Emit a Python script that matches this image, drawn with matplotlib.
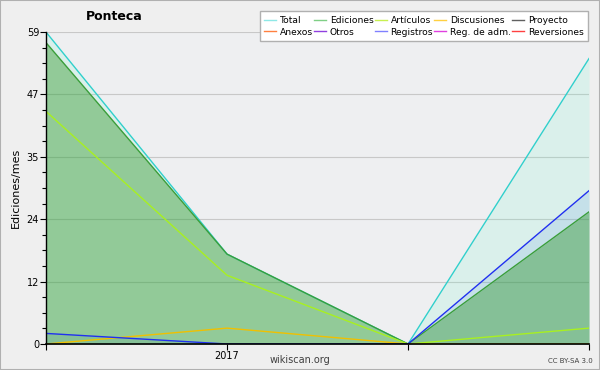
import numpy as np
import matplotlib.pyplot as plt
from matplotlib.lines import Line2D
from matplotlib.patches import Rectangle

x = [0, 1, 2, 3]
xticklabels = ['', '2017', '', '']
total = [59, 17, 0, 54]
ediciones = [57, 17, 0, 25]
articulos = [44, 13, 0, 3]
discusiones = [0, 3, 0, 0]
registros = [2, 0, 0, 29]

legend_names = ['Total', 'Ediciones', 'Artículos', 'Discusiones', 'Proyecto',
                'Anexos', 'Otros', 'Registros', 'Reg. de adm.', 'Reversiones']
legend_colors = ['#8ee8e6', '#7fcf85', '#c8f050', '#ffd040', '#606060',
                 '#ff8040', '#9040e0', '#8080ff', '#e040e0', '#ff4040']

fig = plt.figure(figsize=(6, 3.7), dpi=100, facecolor='#efefef')
fig.patches.append(Rectangle((0, 0), 1, 1, transform=fig.transFigure,
                             fill=False, edgecolor='#b0b0b0', lw=1.5))
ax = fig.add_axes([0.0767, 0.0703, 0.905, 0.843])
ax.set_facecolor('#eeeff1')

# areas
ax.fill_between(x, 0, total, color='#64fac8', alpha=0.14, lw=0)
ax.fill_between(x, 0, registros, color='#3c78dc', alpha=0.13, lw=0)
ax.fill_between(x, 0, ediciones, color='#26911d', alpha=0.4, lw=0)

ax.plot(x, total, color='#30d0cc', lw=1)
ax.plot(x, ediciones, color='#3a9e3a', lw=1)
ax.plot(x, articulos, color='#a8f020', lw=1)
ax.plot(x, discusiones, color='#f0c000', lw=1)
ax.plot(x, registros, color='#2030f0', lw=1)

ax.set_xlim(0, 3)
ax.set_ylim(0, 59)
major = [0, 11.8, 23.6, 35.4, 47.2, 59]
ax.set_yticks(major)
ax.set_yticklabels([str(int(round(v))) for v in major])
ax.set_yticks(np.arange(0, 59, 2.95), minor=True)
ax.set_xticks(x)
ax.set_xticklabels(xticklabels)
ax.tick_params(axis='both', labelsize=7, length=4, width=0.8, colors='black', pad=1)
ax.tick_params(axis='y', which='minor', length=3, width=0.8)
ax.grid(axis='y', which='major', color='#c8c8c8', lw=0.8)
ax.set_axisbelow(True)
for s in ['top', 'right']:
    ax.spines[s].set_visible(False)
ax.spines['left'].set_linewidth(1)
ax.spines['bottom'].set_linewidth(1.2)

ax.set_ylabel('Ediciones/mes', fontsize=8, labelpad=4)
fig.text(0.19, 0.955, 'Ponteca', fontsize=9, fontweight='bold', ha='center', va='center')
fig.text(0.5, 0.027, 'wikiscan.org', fontsize=7, color='#404040', ha='center', va='center')
fig.text(0.95, 0.025, 'CC BY-SA 3.0', fontsize=5, color='#404040', ha='center', va='center')

handles = [Line2D([], [], color=c, lw=1) for c in legend_colors]
order = [0, 5, 1, 6, 2, 7, 3, 8, 4, 9]
fig.legend([handles[i] for i in order], [legend_names[i] for i in order],
           ncol=5, loc='upper right', bbox_to_anchor=(0.988, 0.982),
           fontsize=6.6, frameon=True, fancybox=False, edgecolor='#b0b0b0',
           framealpha=1, handlelength=1.3, handletextpad=0.4, columnspacing=0.15,
           labelspacing=0.3, borderpad=0.5)

fig.savefig('out.png', dpi=100, facecolor=fig.get_facecolor())
